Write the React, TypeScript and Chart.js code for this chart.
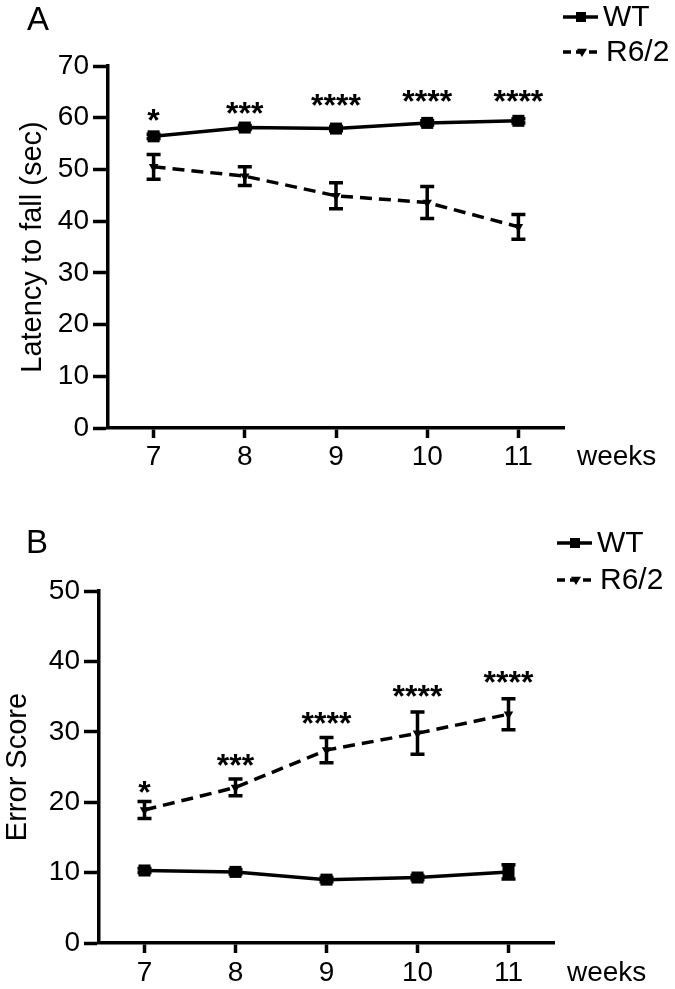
import React, { useEffect, useRef } from 'react';
import { Chart, registerables } from 'chart.js';

Chart.register(...registerables);

// ---------- data ----------
const weeks = [7, 8, 9, 10, 11];
const seriesNames = ['WT', 'R6/2'];

// Panel A: Latency to fall (sec)
const latencyWT = [56.4, 58.1, 57.9, 59.0, 59.4];
const latencyWTErr = [0.4, 0.4, 0.4, 0.4, 0.4];
const latencyR62 = [50.5, 48.7, 44.9, 43.6, 38.9];
const latencyR62Err = [2.4, 1.8, 2.5, 3.1, 2.4];
const latencyStars = ['*', '***', '****', '****', '****'];
const latencyStarY = [60.5, 61.9, 63.4, 64.2, 64.2];
const latencyTicks = [0, 10, 20, 30, 40, 50, 60, 70];

// Panel B: Error Score
const errorWT = [10.3, 10.1, 9.0, 9.3, 10.1];
const errorWTErr = [0.3, 0.3, 0.3, 0.3, 1.0];
const errorR62 = [18.9, 22.1, 27.4, 29.8, 32.5];
const errorR62Err = [1.2, 1.2, 1.8, 3.0, 2.2];
const errorStars = ['*', '***', '****', '****', '****'];
const errorStarY = [22.2, 26.1, 32.0, 35.9, 37.8];
const errorTicks = [0, 10, 20, 30, 40, 50];

const FONT = '"Liberation Sans", Arial, Helvetica, sans-serif';
const LW = 3.5;

type Panel = {
  letter: string;
  yTitle: string;
  yTicks: number[];
  wt: number[];
  wtErr: number[];
  r62: number[];
  r62Err: number[];
  stars: string[];
  starY: number[];
  canvasH: number;
  axisX: number;
  top: number;
  bottom: number;
  right: number;
  titleX: number;
  letterX: number;
  letterBase: number;
  legendX: number;
  legendY: [number, number];
  xTickPad: number;
};

function drawMarker(ctx: CanvasRenderingContext2D, kind: 'rect' | 'tri', x: number, y: number, s: number) {
  ctx.beginPath();
  if (kind === 'rect') {
    ctx.rect(x - s / 2, y - s / 2, s, s);
  } else {
    ctx.moveTo(x - s / 2, y - s / 3);
    ctx.lineTo(x + s / 2, y - s / 3);
    ctx.lineTo(x, y + s / 2);
    ctx.closePath();
  }
  ctx.fillStyle = '#000';
  ctx.fill();
}

function PanelChart({ p, top }: { p: Panel; top: number }) {
  const ref = useRef<HTMLCanvasElement | null>(null);
  useEffect(() => {
    const canvas = ref.current;
    if (!canvas) return;
    const yMax = p.yTicks[p.yTicks.length - 1];
    const overlay = {
      id: 'overlay',
      afterDatasetsDraw(chart: any) {
        const ctx: CanvasRenderingContext2D = chart.ctx;
        const xs = chart.scales.x;
        const ys = chart.scales.y;
        ctx.save();
        ctx.strokeStyle = '#000';
        ctx.lineWidth = LW;
        ctx.setLineDash([]);
        const bars: [number[], number[]][] = [
          [p.wt, p.wtErr],
          [p.r62, p.r62Err],
        ];
        bars.forEach(([vals, errs]) => {
          vals.forEach((v, i) => {
            const x = xs.getPixelForValue(weeks[i]);
            const yT = ys.getPixelForValue(v + errs[i]);
            const yB = ys.getPixelForValue(v - errs[i]);
            ctx.beginPath();
            ctx.moveTo(x, yT);
            ctx.lineTo(x, yB);
            ctx.moveTo(x - 7, yT);
            ctx.lineTo(x + 7, yT);
            ctx.moveTo(x - 7, yB);
            ctx.lineTo(x + 7, yB);
            ctx.stroke();
          });
        });
        ctx.fillStyle = '#000';
        ctx.font = `bold 32px ${FONT}`;
        ctx.textAlign = 'center';
        ctx.textBaseline = 'middle';
        p.stars.forEach((s, i) => {
          const x = xs.getPixelForValue(weeks[i]);
          const y = ys.getPixelForValue(p.starY[i]) + 7.5;
          ctx.fillText(s, x, y);
        });
        ctx.restore();
      },
      afterDraw(chart: any) {
        const ctx: CanvasRenderingContext2D = chart.ctx;
        const area = chart.chartArea;
        ctx.save();
        ctx.fillStyle = '#000';
        ctx.font = `33px ${FONT}`;
        ctx.textAlign = 'left';
        ctx.textBaseline = 'alphabetic';
        ctx.fillText(p.letter, p.letterX, p.letterBase);
        ctx.save();
        ctx.translate(p.titleX, (area.top + area.bottom) / 2);
        ctx.rotate(-Math.PI / 2);
        ctx.font = `29px ${FONT}`;
        ctx.textAlign = 'center';
        ctx.textBaseline = 'middle';
        ctx.fillText(p.yTitle, 0, 0);
        ctx.restore();
        ctx.font = `28px ${FONT}`;
        ctx.textAlign = 'left';
        ctx.textBaseline = 'middle';
        ctx.fillText('weeks', area.right + 13, area.bottom + 10 + p.xTickPad + 16.8);
        const lx = p.legendX;
        ctx.strokeStyle = '#000';
        ctx.lineWidth = LW;
        ctx.setLineDash([]);
        ctx.beginPath();
        ctx.moveTo(lx, p.legendY[0]);
        ctx.lineTo(lx + 35, p.legendY[0]);
        ctx.stroke();
        drawMarker(ctx, 'rect', lx + 18, p.legendY[0], 10);
        ctx.setLineDash([8, 5]);
        ctx.beginPath();
        ctx.moveTo(lx, p.legendY[1]);
        ctx.lineTo(lx + 38, p.legendY[1]);
        ctx.stroke();
        ctx.setLineDash([]);
        drawMarker(ctx, 'tri', lx + 19, p.legendY[1], 10);
        ctx.font = `30px ${FONT}`;
        ctx.textBaseline = 'middle';
        ctx.fillText(seriesNames[0], lx + 40, p.legendY[0] + 1);
        ctx.fillText(seriesNames[1], lx + 43, p.legendY[1] + 1);
        ctx.restore();
      },
    };

    const chart = new Chart(canvas, {
      type: 'line',
      data: {
        datasets: [
          {
            label: seriesNames[0],
            data: weeks.map((w, i) => ({ x: w, y: p.wt[i] })),
            borderColor: '#000',
            backgroundColor: '#000',
            borderWidth: LW,
            tension: 0,
            pointStyle: 'rect',
            pointRadius: 8.5,
            pointBorderWidth: 0,
            pointBackgroundColor: '#000',
          },
          {
            label: seriesNames[1],
            data: weeks.map((w, i) => ({ x: w, y: p.r62[i] })),
            borderColor: '#000',
            backgroundColor: '#000',
            borderWidth: LW,
            borderDash: [12, 7],
            tension: 0,
            pointStyle: 'triangle',
            pointRotation: 180,
            pointRadius: 5.5,
            pointBorderWidth: 0,
            pointBackgroundColor: '#000',
          },
        ],
      },
      options: {
        responsive: false,
        animation: false,
        devicePixelRatio: 1,
        events: [],
        layout: {
          padding: { top: p.top, right: 675 - p.right, left: 0, bottom: 0 },
        },
        plugins: {
          legend: { display: false },
          tooltip: { enabled: false },
        },
        scales: {
          x: {
            type: 'linear',
            min: 6.5,
            max: 11.5,
            afterBuildTicks: (scale: any) => {
              scale.ticks = weeks.map((v) => ({ value: v }));
            },
            afterFit: (scale: any) => {
              scale.height = p.canvasH - p.bottom;
            },
            grid: {
              display: true,
              drawOnChartArea: false,
              drawTicks: true,
              tickLength: 10,
              tickWidth: LW,
              tickColor: '#000',
            },
            border: { display: true, color: '#000', width: LW },
            ticks: {
              autoSkip: false,
              maxRotation: 0,
              padding: p.xTickPad,
              color: '#000',
              font: { family: FONT, size: 28 },
              callback: (v: any) => String(v),
            },
          },
          y: {
            type: 'linear',
            min: 0,
            max: yMax,
            afterBuildTicks: (scale: any) => {
              scale.ticks = p.yTicks.map((v) => ({ value: v }));
            },
            afterFit: (scale: any) => {
              scale.width = p.axisX;
            },
            grid: {
              display: true,
              drawOnChartArea: false,
              drawTicks: true,
              tickLength: 15,
              tickWidth: LW,
              tickColor: '#000',
            },
            border: { display: true, color: '#000', width: LW },
            ticks: {
              padding: 4,
              color: '#000',
              font: { family: FONT, size: 28 },
              callback: (v: any) => String(v),
            },
          },
        },
      },
      plugins: [overlay],
    } as any);
    return () => chart.destroy();
  }, [p]);

  return (
    <canvas
      ref={ref}
      width={675}
      height={p.canvasH}
      style={{ position: 'absolute', left: 0, top, width: 675, height: p.canvasH, display: 'block' }}
    />
  );
}

const panelA: Panel = {
  letter: 'A',
  yTitle: 'Latency to fall (sec)',
  yTicks: latencyTicks,
  wt: latencyWT,
  wtErr: latencyWTErr,
  r62: latencyR62,
  r62Err: latencyR62Err,
  stars: latencyStars,
  starY: latencyStarY,
  canvasH: 495,
  axisX: 108,
  top: 66,
  bottom: 428,
  right: 564,
  titleX: 33,
  letterX: 27,
  letterBase: 30,
  legendX: 563,
  legendY: [17, 52],
  xTickPad: 2,
};

const panelB: Panel = {
  letter: 'B',
  yTitle: 'Error Score',
  yTicks: errorTicks,
  wt: errorWT,
  wtErr: errorWTErr,
  r62: errorR62,
  r62Err: errorR62Err,
  stars: errorStars,
  starY: errorStarY,
  canvasH: 494,
  axisX: 99,
  top: 96,
  bottom: 448,
  right: 554,
  titleX: 18,
  letterX: 26,
  letterBase: 58,
  legendX: 557,
  legendY: [48, 85],
  xTickPad: 3,
};

export default function App() {
  return (
    <div style={{ position: 'absolute', left: 0, top: 0, width: 675, height: 989, background: '#fff' }}>
      <PanelChart p={panelA} top={0} />
      <PanelChart p={panelB} top={495} />
    </div>
  );
}
